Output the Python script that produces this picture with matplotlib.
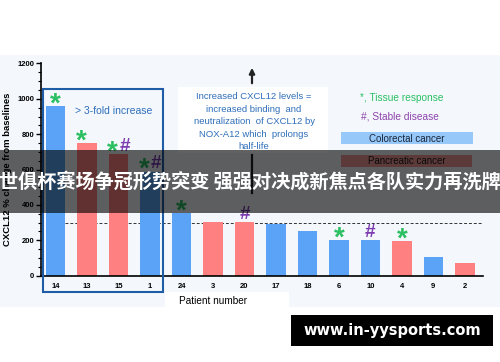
import matplotlib
matplotlib.use('Agg')
import matplotlib.pyplot as plt
from matplotlib.patches import Rectangle, FancyArrowPatch
from matplotlib.ticker import MultipleLocator

# data
patients = ['14', '13', '15', '1', '24', '3', '20', '17', '18', '6', '10', '4', '9', '2']
cxcl12_change = [960, 749, 687, 589, 353, 304, 302, 294, 255, 204, 202, 196, 104, 72]
cancer_type = ['C', 'P', 'P', 'C', 'C', 'P', 'P', 'C', 'C', 'C', 'C', 'P', 'C', 'P']
tissue_response = ['14', '13', '15', '1', '24', '6', '4']
stable_disease = ['15', '1', '20', '10']
threshold = 300
caption = '世俱杯赛场争冠形势突变 强强对决成新焦点各队实力再洗牌'

plt.rcParams['font.family'] = ['Liberation Sans', 'DejaVu Sans']

W, H = 500, 362
BLUE = '#5BA3F6'
RED = '#FF8080'
GREEN = '#2BBF62'
PURPLE = '#7D3DB0'


def fx(x):
    return x / W


def fy(y):
    return 1 - y / H


def frect(x0, y0, x1, y1, **kw):
    r = Rectangle((fx(x0), fy(y1)), fx(x1) - fx(x0), fy(y0) - fy(y1),
                  transform=fig.transFigure, **kw)
    fig.patches.append(r)
    return r


fig = plt.figure(figsize=(5, 3.62), dpi=100)

# light background of the slide
frect(0, 55, 500, 307, facecolor='#F4F8FD', edgecolor='none', zorder=-5)
frect(165, 292, 289, 307, facecolor='white', edgecolor='none', zorder=-4)
frect(178, 87, 328, 153, facecolor='white', edgecolor='none', zorder=-4)

ax = fig.add_axes([fx(40.7), fy(275.7), fx(483) - fx(40.7), fy(63.5) - fy(275.7)])
ax.set_facecolor('none')

x = list(range(len(patients)))
colors = [BLUE if c == 'C' else RED for c in cancer_type]
ax.bar(x, cxcl12_change, width=0.62, color=colors, zorder=2)
ax.plot([0.31, 13.58], [threshold, threshold], ls=(0, (3, 2)), color='#333333', lw=0.7, zorder=1)

ax.set_xlim(-0.477, 13.58)
ax.set_ylim(0, 1200)
ax.yaxis.set_major_locator(MultipleLocator(200))
ax.yaxis.set_minor_locator(MultipleLocator(50))
ax.set_xticks(x)
ax.set_xticklabels(patients, fontsize=5.5, fontweight='bold')
ax.tick_params(axis='x', length=0, pad=5)
ax.tick_params(axis='y', which='major', length=3.5, width=1, labelsize=5.5, pad=1)
ax.tick_params(axis='y', which='minor', length=2, width=0.8)
for lab in ax.get_yticklabels():
    lab.set_fontweight('bold')
for s in ['top', 'right']:
    ax.spines[s].set_visible(False)
for s in ['left', 'bottom']:
    ax.spines[s].set_linewidth(1.2)

# response markers
for i, p in enumerate(patients):
    star = p in tissue_response
    hsh = p in stable_disease
    if star and hsh:
        dx_star, dx_hash = -4.3, 4.3
    else:
        dx_star, dx_hash = (-4.0 if p == '13' else 0), 0
    if star:
        ax.annotate('*', (i, cxcl12_change[i]), xytext=(dx_star, -4.0), textcoords='offset points',
                    ha='center', va='baseline', fontsize=20, fontweight='bold', color=GREEN, zorder=4)
    if hsh:
        ax.annotate('#', (i, cxcl12_change[i]), xytext=(dx_hash, 2.5), textcoords='offset points',
                    ha='center', va='baseline', fontsize=13.5, fontweight='bold', color=PURPLE, zorder=4)

# box around >3-fold patients
frect(43, 89, 163, 292, facecolor='none', edgecolor='#1F5CA6', lw=1.5, zorder=5)
fig.text(fx(114), fy(111), '> 3-fold increase', color='#2F6EBA', fontsize=7.5, ha='center', va='center')

# explanation box
lines = ['Increased CXCL12 levels =', 'increased binding  and', 'neutralization  of CXCL12 by',
         'NOX-A12 which  prolongs', 'half-life']
for k, line in enumerate(lines):
    fig.text(fx(254), fy(96.7 + k * 12.5), line, color='#2F6EBA', fontsize=6.8, ha='center', va='center')
fig.add_artist(FancyArrowPatch((fx(252), fy(86)), (fx(252), fy(65)), transform=fig.transFigure,
                               arrowstyle='-|>', mutation_scale=8, lw=1.6, color='#222222'))
fig.add_artist(plt.Line2D([fx(252), fx(252)], [fy(155), fy(193)], transform=fig.transFigure,
                          lw=1.6, color='#222222'))

# legend
fig.text(fx(402), fy(98), '*, Tissue response', color=GREEN, fontsize=7.3, ha='center', va='center')
fig.text(fx(400), fy(116), '#, Stable disease', color='#8E44AD', fontsize=7.3, ha='center', va='center')
frect(341, 132, 473, 144, facecolor='#96C8FA', edgecolor='none', zorder=2)
fig.text(fx(407), fy(138.5), 'Colorectal cancer', color='#1A2538', fontsize=7, ha='center', va='center')
frect(341, 155, 472, 167, facecolor='#F29A9A', edgecolor='none', zorder=2)
fig.text(fx(407), fy(161.5), 'Pancreatic cancer', color='#1A1A1A', fontsize=7, ha='center', va='center')

fig.text(fx(7.5), fy(169), 'CXCL12 % change from baselines', rotation=90, fontsize=6.8,
         fontweight='bold', ha='center', va='center')
fig.text(fx(213), fy(301.5), 'Patient number', fontsize=7.2, ha='center', va='center')

# caption overlay
frect(0, 150, 500, 213, facecolor='black', edgecolor='none', alpha=0.62, zorder=20)
fig.text(0.5, fy(182), caption, color='white', fontsize=13.8, fontweight='bold', ha='center', va='center',
         family=['Noto Sans CJK SC', 'DejaVu Sans'], zorder=21)

# watermark
frect(291, 315, 493, 346, facecolor='black', edgecolor='none', zorder=20)
fig.text(fx(392), fy(330.5), 'www.in-yysports.com', color='white', fontsize=10.5, fontweight='bold',
         ha='center', va='center', family=['DejaVu Sans'], zorder=21)

fig.savefig('out.png', dpi=100)
